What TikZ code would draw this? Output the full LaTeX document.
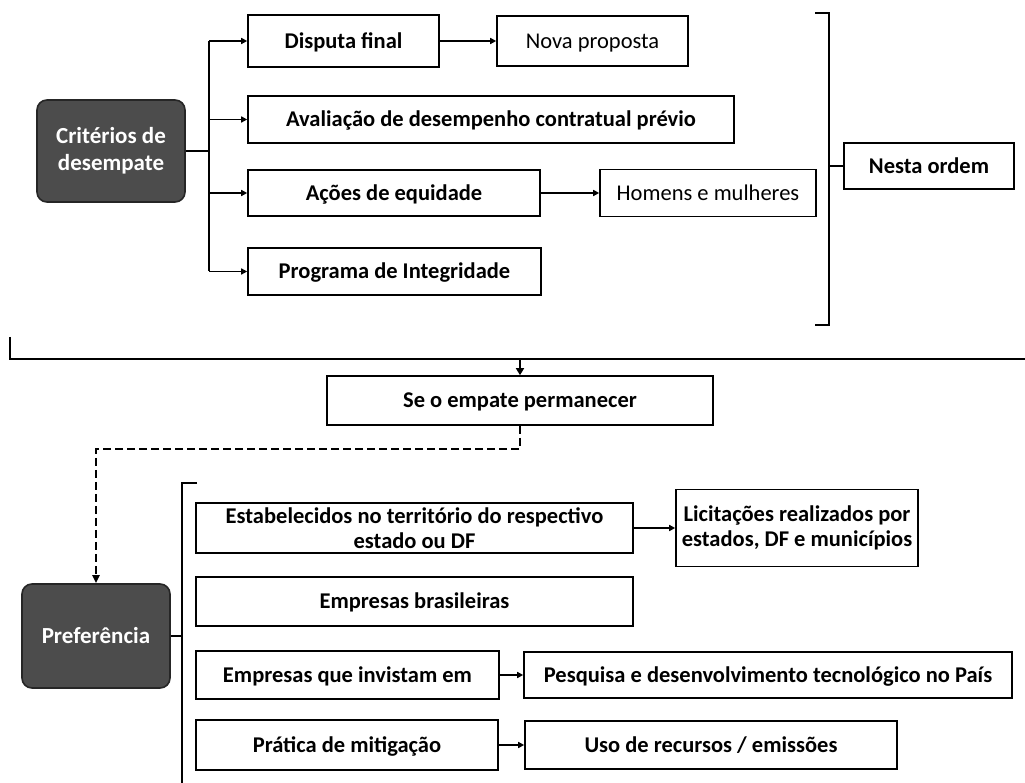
\documentclass[tikz,border=0pt]{standalone}
\usepackage{fontspec}
\setmainfont{Carlito}
\usetikzlibrary{arrows.meta}
\begin{document}
\begin{tikzpicture}[x=1pt,y=-1pt,
  basebox/.style={draw=black, line width=1.6pt, fill=white, inner sep=2pt, font=\fontsize{22.5}{25}\selectfont\bfseries, align=center},
  box/.style={basebox, text height=17pt, text depth=2.6pt},
  plainbox/.style={box, font=\fontsize{22.5}{25}\selectfont},
  darkbox/.style={draw=black!85, line width=1.6pt, fill=black!70, rounded corners=10pt, text=white, inner sep=2pt, font=\fontsize{23}{27}\selectfont\bfseries, align=center},
  conn/.style={line width=1.5pt},
  arr/.style={conn, -{Triangle[length=6pt,width=6pt]}},
  brk/.style={line width=1.8pt},
  brace/.style={line width=2.4pt},
  dashconn/.style={line width=2pt, dash pattern=on 8pt off 4pt, -{Triangle[length=8pt,width=7pt]}},
]
\useasboundingbox (0,0) rectangle (1025,783);
\fill[white] (0,0) rectangle (1025,783);

% ---------- upper part ----------
\node[darkbox, minimum width=148pt, minimum height=102pt] (crit) at (111,151) {Critérios de\\desempate};
\node[box, minimum width=191pt, minimum height=52pt] (disp) at (343.5,41) {Disputa final};
\node[plainbox, minimum width=191pt, minimum height=50pt] (nova) at (592.5,41) {Nova proposta};
\node[box, minimum width=486pt, minimum height=47pt] (aval) at (491,119.5) {Avaliação de desempenho contratual prévio};
\node[box, minimum width=292pt, minimum height=46pt] (acoes) at (394,193) {Ações de equidade};
\node[plainbox, minimum width=216pt, minimum height=47pt] (homens) at (708,193) {Homens e mulheres};
\node[box, minimum width=293pt, minimum height=47pt] (prog) at (394.5,271.5) {Programa de Integridade};
\node[box, minimum width=170pt, minimum height=46pt] (nesta) at (929,166) {Nesta ordem};

\coordinate (trunk) at (209,151);
\coordinate (trunkTop) at (209,41);
\coordinate (trunkBot) at (209,271.5);
\draw[conn] (crit.east) -- (trunk);
\draw[conn] (trunkTop) -- (trunkBot);
\draw[arr] (trunkTop) -- (disp.west);
\draw[arr] (trunk |- aval.west) -- (aval.west);
\draw[arr] (trunk |- acoes.west) -- (acoes.west);
\draw[arr] (trunkBot) -- (prog.west);
\draw[arr] (disp.east) -- (disp.east -| nova.west);
\draw[arr] (acoes.east) -- (acoes.east -| homens.west);

% right bracket
\coordinate (rbTop) at (815,13);
\coordinate (rbBot) at (815,325);
\coordinate (rbMid) at (829,166);
\draw[brk] (rbTop) -- (829,13) -- (829,325) -- (rbBot);
\draw[conn] (rbMid) -- (nesta.west);

% ---------- horizontal brace ----------
\node[box, minimum width=386pt, minimum height=49pt] (se) at (520,400.5) {Se o empate permanecer};
\coordinate (brL) at (10,337);
\coordinate (brTip) at (520,359);
\draw[brace] (brL) -- (10,359) -- (1025,359);
\draw[conn, -{Triangle[length=7pt,width=8pt]}] (brTip) -- (se.north);

% ---------- lower part ----------
\node[darkbox, minimum width=148pt, minimum height=104pt] (pref) at (96,636) {Preferência};
\node[basebox, minimum width=437pt, minimum height=50pt] (estab) at (414.5,528) {Estabelecidos no território do respectivo\\estado ou DF};
\node[basebox, minimum width=242pt, minimum height=77pt] (licit) at (797,528) {Licitações realizados por\\estados, DF e municípios};
\node[box, minimum width=437pt, minimum height=49pt] (embr) at (414.5,601.5) {Empresas brasileiras};
\node[box, minimum width=303pt, minimum height=48pt] (emin) at (347.5,675) {Empresas que invistam em};
\node[box, minimum width=488pt, minimum height=46pt] (pesq) at (768,675) {Pesquisa e desenvolvimento tecnológico no País};
\node[box, minimum width=302pt, minimum height=50pt] (prat) at (347,745) {Prática de mitigação};
\node[box, minimum width=372pt, minimum height=48pt] (uso) at (711,745) {Uso de recursos / emissões};

\coordinate (dashTurn) at (520,449);
\draw[dashconn] (se.south) -- (dashTurn) -| (pref.north);

% lower bracket
\coordinate (lbTop) at (197,483);
\coordinate (lbMid) at (182,636);
\draw[brk] (lbTop) -- (182,483) -- (182,783);
\draw[conn] (pref.east) -- (lbMid);

\draw[arr] (estab.east) -- (estab.east -| licit.west);
\draw[arr] (emin.east) -- (emin.east -| pesq.west);
\draw[arr] (prat.east) -- (prat.east -| uso.west);
\end{tikzpicture}
\end{document}
